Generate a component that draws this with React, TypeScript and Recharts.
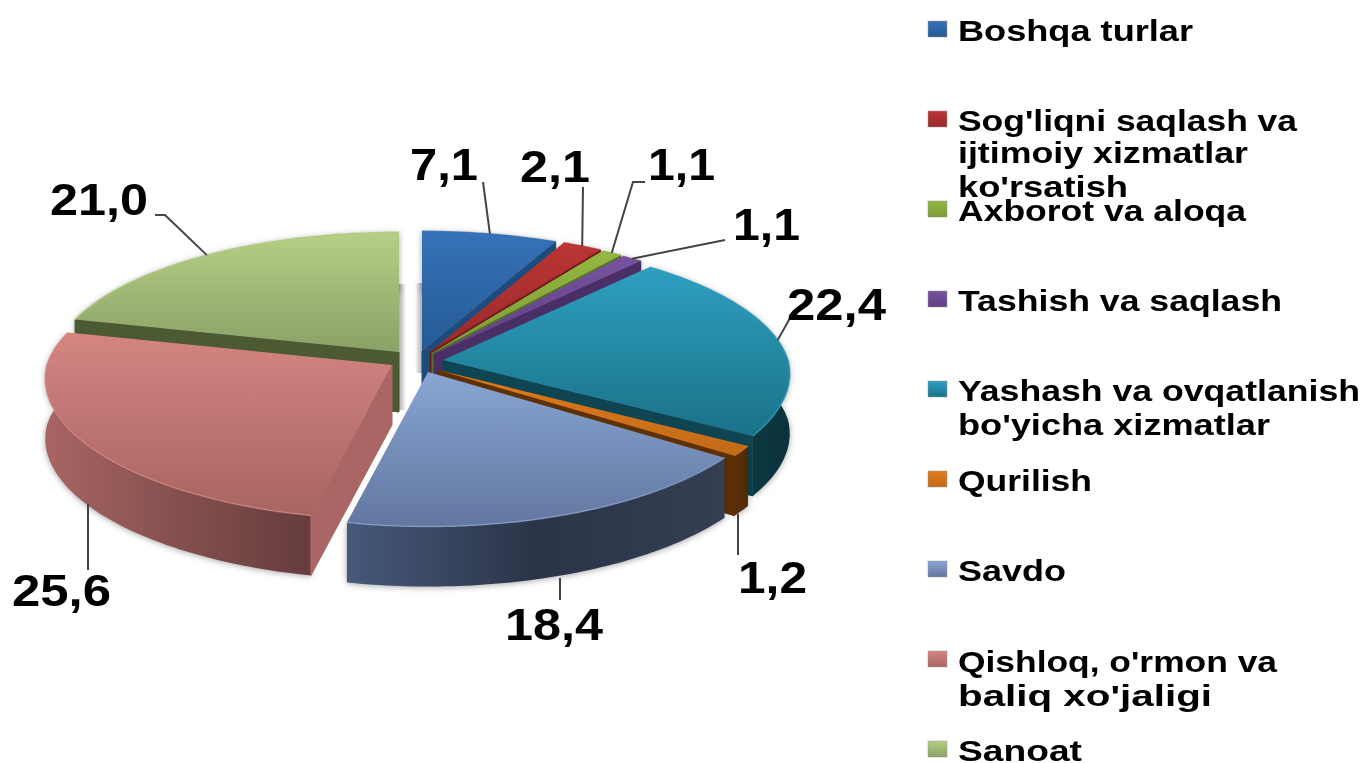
import { Pie, PieChart } from "recharts";

const categories = [
  "Boshqa turlar",
  "Sog'liqni saqlash va ijtimoiy xizmatlar ko'rsatish",
  "Axborot va aloqa",
  "Tashish va saqlash",
  "Yashash va ovqatlanish bo'yicha xizmatlar",
  "Qurilish",
  "Savdo",
  "Qishloq, o'rmon va baliq xo'jaligi",
  "Sanoat",
];
const values = [7.1, 2.1, 1.1, 1.1, 22.4, 1.2, 18.4, 25.6, 21.0];
const valueLabels = ["7,1", "2,1", "1,1", "1,1", "22,4", "1,2", "18,4", "25,6", "21,0"];

// legend text as it wraps in the picture: [text, baseline, right edge]
const legendLines: [string, number, number][][] = [
  [["Boshqa turlar", 41, 1193]],
  [["Sog'liqni saqlash va", 131, 1297], ["ijtimoiy xizmatlar", 163, 1248], ["ko'rsatish", 197, 1128]],
  [["Axborot va aloqa", 221, 1246]],
  [["Tashish va saqlash", 311, 1282]],
  [["Yashash va ovqatlanish", 401, 1360], ["bo'yicha xizmatlar", 435, 1270]],
  [["Qurilish", 491, 1092]],
  [["Savdo", 581, 1066]],
  [["Qishloq, o'rmon va", 672, 1277], ["baliq xo'jaligi", 706, 1212]],
  [["Sanoat", 761, 1082]],
];
const legendMarkerTops = [21, 111, 201, 291, 381, 471, 561, 651, 741];

// top, top-bottom, cut face, wall left, wall middle, wall right
const palette = [
  ["#3672b8", "#255b94", "#1f4a7c", "#2a5c94", "#1f4a7c", "#1f4a7c"],
  ["#bb3533", "#982a2a", "#6e1c1c", "#7a2020", "#6e1c1c", "#6e1c1c"],
  ["#93b741", "#7c9b36", "#55702a", "#5c7a2c", "#55702a", "#55702a"],
  ["#78529f", "#5e3f84", "#4a2f66", "#4a2f66", "#4a2f66", "#4a2f66"],
  ["#2e9fc0", "#1a7288", "#0f4452", "#0e3a44", "#0e3a44", "#0c333c"],
  ["#e07b1c", "#c26a18", "#5e3008", "#5a2e0a", "#5a2e0a", "#4a2606"],
  ["#88a5d3", "#62779f", "#2c3850", "#46597a", "#2b3447", "#343f54"],
  ["#d48582", "#a86561", "#a96664", "#a86563", "#84504f", "#663c3d"],
  ["#b6cf85", "#8aa167", "#4c5a34", "#4c5a34", "#4c5a34", "#4c5a34"],
];

// how far each slice is pulled out of the pie
const explode = [
  [9, -7], [17, -6], [19, -5], [21, -4], [30, 2], [25, 12], [15, 14], [-21, 7], [-14, -6],
];

// where each value label sits, and the bends of its leader line
const labelLayout = [
  { x: 410, y: 180, w: 68, bends: [[483, 182]] },
  { x: 520, y: 182, w: 70, bends: [[583, 187]] },
  { x: 648, y: 180, w: 67, bends: [[633, 182], [645, 182]] },
  { x: 733, y: 240, w: 67, bends: [[725, 240]] },
  { x: 787, y: 320, w: 99, bends: [[790, 318]] },
  { x: 738, y: 593, w: 69, bends: [[738, 555]] },
  { x: 505, y: 640, w: 98, bends: [[560, 600]] },
  { x: 12, y: 606, w: 99, bends: [[88, 570]] },
  { x: 50, y: 215, w: 98, bends: [[165, 215], [155, 215]] },
];

const DEPTH = 60;
const FONT = "'Liberation Sans', Arial, sans-serif";
const SANOAT = categories.length - 1;

// pie is seen in perspective: near edge is longer than the far edge
const project = (deg: number, r: number) => {
  const t = (deg * Math.PI) / 180;
  const u = Math.sin(t);
  const v = -Math.cos(t);
  const kx = v < 0 ? 0.127 : 0.1;
  return { x: (r * u) / (1 - kx * v), y: (0.391 * r * v) / (1 - 0.127 * v), v };
};

const toPath = (pts: number[][]) => "M" + pts.map((p) => p[0].toFixed(1) + " " + p[1].toFixed(1)).join("L") + "Z";

const indexOfName = (name: string) => categories.indexOf(name);

// a cut face shows only if the slice's top lies above that edge on screen
const faceShows = (apex: number[], end: number[], inside: number[]) => {
  const ex = end[0] - apex[0];
  const ey = end[1] - apex[1];
  return ex * (ex * (inside[1] - apex[1]) - ey * (inside[0] - apex[0])) < 0;
};

function Slice3D(props: any) {
  const { cx, cy, startAngle, endAngle, outerRadius, name } = props;
  const i = indexOfName(name);
  const c = palette[i];
  const ax = cx + explode[i][0];
  const ay = cy + explode[i][1];
  const from = 90 - startAngle;
  const to = 90 - endAngle;
  const arc: number[][] = [];
  const steps = Math.max(2, Math.ceil(to - from));
  for (let s = 0; s <= steps; s++) {
    const p = project(from + ((to - from) * s) / steps, outerRadius);
    arc.push([ax + p.x, ay + p.y]);
  }
  const down = (p: number[]) => [p[0], p[1] + DEPTH];
  const apex = [ax, ay];
  const middle = arc[Math.floor(arc.length / 2)];
  const cuts = [arc[0], arc[arc.length - 1]].filter((end) => faceShows(apex, end, middle));
  return (
    <g>
      <defs>
        <linearGradient id={"top" + i} x1="0" y1="0" x2="0" y2="1">
          <stop offset="0%" stopColor={c[0]} />
          <stop offset="100%" stopColor={c[1]} />
        </linearGradient>
        <linearGradient id={"wall" + i} x1="0" y1="0" x2="1" y2="0">
          <stop offset="0%" stopColor={c[3]} />
          <stop offset="50%" stopColor={c[4]} />
          <stop offset="100%" stopColor={c[5]} />
        </linearGradient>
        <linearGradient id={"gap" + i} x1="0" y1="0" x2="1" y2="0">
          <stop offset="0%" stopColor="#999" stopOpacity={i === 0 ? 0 : 0.8} />
          <stop offset="100%" stopColor="#999" stopOpacity={i === 0 ? 0.8 : 0} />
        </linearGradient>
      </defs>
      {/* soft shade the two back slices throw into the gap between them */}
      {i === SANOAT && <rect x={ax} y={ay - 68} width={7} height={126} fill={"url(#gap" + i + ")"} />}
      {i === 0 && <rect x={ax - 7} y={ay - 68} width={7} height={90} fill={"url(#gap" + i + ")"} />}
      <path
        d={toPath([...arc, ...arc.slice().reverse().map(down)])}
        fill={"url(#wall" + i + ")"}
        style={{ filter: "drop-shadow(0 1px 3px rgba(0,0,0,0.35))" }}
      />
      {cuts.map((end, k) => (
        <path key={k} d={toPath([apex, end, down(end), down(apex)])} fill={c[2]} stroke={c[2]} strokeWidth={1} />
      ))}
      <path d={toPath([apex, ...arc])} fill={"url(#top" + i + ")"} />
      <polyline
        points={arc.map((q) => q.join(",")).join(" ")}
        fill="none"
        stroke={c[0]}
        strokeOpacity={0.7}
        strokeWidth={1.5}
      />
    </g>
  );
}

function ValueLabel(props: any) {
  const { cx, cy, midAngle, outerRadius, name } = props;
  const i = indexOfName(name);
  const layout = labelLayout[i];
  const p = project(90 - midAngle, outerRadius);
  const front = p.v > 0.3;
  // leaders of the front slices drop straight down from the wall
  const start = front
    ? [layout.bends[0][0], cy + explode[i][1] + p.y + DEPTH + 3]
    : [cx + explode[i][0] + p.x, cy + explode[i][1] + p.y];
  const pts = [start, ...layout.bends];
  return (
    <g>
      <polyline
        points={pts.map((q) => q.join(",")).join(" ")}
        fill="none"
        stroke="#444"
        strokeWidth={2}
      />
      <text
        x={layout.x}
        y={layout.y}
        fontFamily={FONT}
        fontWeight="bold"
        fontSize={44}
        fill="#000"
        textLength={layout.w}
        lengthAdjust="spacingAndGlyphs"
      >
        {valueLabels[i]}
      </text>
    </g>
  );
}

function ChartLegend() {
  return (
    <svg width={1367} height={763} style={{ position: "absolute", left: 0, top: 0 }}>
      <defs>
        {palette.map((c, i) => (
          <linearGradient key={i} id={"mark" + i} x1="0" y1="0" x2="0" y2="1">
            <stop offset="0%" stopColor={c[0]} />
            <stop offset="100%" stopColor={c[1]} />
          </linearGradient>
        ))}
      </defs>
      {legendLines.map((lines, i) => (
        <g key={i}>
          <rect x={928} y={legendMarkerTops[i]} width={19} height={16} fill={"url(#mark" + i + ")"} stroke="#999" strokeWidth={0.5} />
          {lines.map(([text, y, right]) => (
            <text
              key={text}
              x={958}
              y={y}
              fontFamily={FONT}
              fontWeight="bold"
              fontSize={30}
              fill="#000"
              textLength={right - 958}
              lengthAdjust="spacingAndGlyphs"
            >
              {text}
            </text>
          ))}
        </g>
      ))}
    </svg>
  );
}

// back slices have to be painted first, so Sanoat opens the list
const rows = categories.map((name, i) => ({ name, value: values[i] }));
const pieRows = [rows[rows.length - 1], ...rows.slice(0, -1)];
const total = values.reduce((a, b) => a + b, 0);
const startAngle = 90 + (values[values.length - 1] / total) * 360;

export default function App() {
  return (
    <div style={{ position: "absolute", left: 0, top: 0, width: 1367, height: 763, background: "#fff", overflow: "hidden", filter: "blur(0.5px)" }}>
      <PieChart width={1367} height={763} margin={{ top: 0, right: 0, bottom: 0, left: 0 }}>
        <Pie
          data={pieRows}
          dataKey="value"
          nameKey="name"
          cx={413}
          cy={358}
          outerRadius={345}
          startAngle={startAngle}
          endAngle={startAngle - 360}
          stroke="none"
          isAnimationActive={false}
          shape={Slice3D}
          label={ValueLabel}
          labelLine={false}
        />
      </PieChart>
      <ChartLegend />
    </div>
  );
}
